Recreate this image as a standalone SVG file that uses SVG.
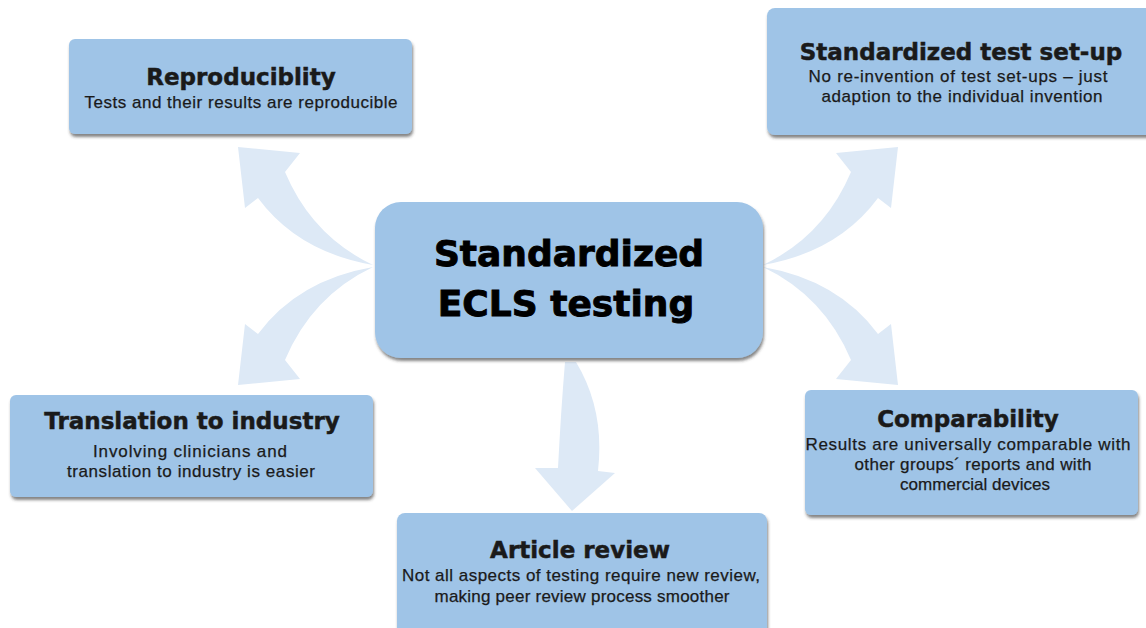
<svg xmlns="http://www.w3.org/2000/svg" xmlns:xlink="http://www.w3.org/1999/xlink" width="1146" height="628" viewBox="0 0 1146 628">
  <style>
    .box { fill: #9fc4e7; filter: url(#shadow); }
    .title { font-family: "DejaVu Sans", "Liberation Sans", sans-serif; font-weight: bold; font-size: 23px; fill: #1a1a1a; stroke: #1a1a1a; stroke-width: 0.5px; text-anchor: middle; }
    .sub { font-family: "Liberation Sans", Arial, sans-serif; font-size: 17px; fill: #1a1a1a; stroke: #1a1a1a; stroke-width: 0.25px; text-anchor: middle; }
    .main { font-family: "DejaVu Sans", "Liberation Sans", sans-serif; font-weight: bold; font-size: 36px; fill: #000; stroke: #000; stroke-width: 0.9px; text-anchor: middle; }
    .flow { fill: #dde9f6; }
  </style>
  <defs>
    <filter id="shadow" x="-5%" y="-10%" width="110%" height="130%">
      <feDropShadow dx="1" dy="3" stdDeviation="1.5" flood-color="#333" flood-opacity="0.6"/>
    </filter>
    <!-- curved block arrow leaving the hub towards the upper left; mirrored for the other corners -->
    <path id="curl" d="M373,265 Q312,236 285,172 L300,153 L238,147 L245,208 L258,198 Q298,252 373,265 Z"/>
  </defs>

  <rect width="1146" height="628" fill="#ffffff"/>

  <g id="connectors" class="flow">
    <use xlink:href="#curl"/>
    <use xlink:href="#curl" transform="translate(1136,0) scale(-1,1)"/>
    <use xlink:href="#curl" transform="translate(0,532) scale(1,-1)"/>
    <use xlink:href="#curl" transform="translate(1136,532) scale(-1,-1)"/>
    <path d="M565,362 L576,362 Q605,410 598,471 L615,473 L572,511 L535,468 L558,468 Q561,410 565,362 Z"/>
  </g>

  <g id="hub">
    <rect class="box" x="375" y="202" width="388" height="156" rx="26"/>
    <text class="main" x="569" y="266">Standardized</text>
    <text class="main" x="566" y="316">ECLS testing</text>
  </g>

  <g id="reproducibility">
    <rect class="box" x="69" y="39" width="343" height="95" rx="6"/>
    <text class="title" x="241" y="85">Reproduciblity</text>
    <text class="sub" x="241" y="108" textLength="313" lengthAdjust="spacing">Tests and their results are reproducible</text>
  </g>

  <g id="test-setup">
    <rect class="box" x="767" y="8" width="400" height="127" rx="8"/>
    <text class="title" x="961" y="60">Standardized test set-up</text>
    <text class="sub" x="958" y="82" textLength="299" lengthAdjust="spacing">No re-invention of test set-ups – just</text>
    <text class="sub" x="962" y="102" textLength="281" lengthAdjust="spacing">adaption to the individual invention</text>
  </g>

  <g id="translation">
    <rect class="box" x="10" y="395" width="363" height="102" rx="6"/>
    <text class="title" x="192" y="429">Translation to industry</text>
    <text class="sub" x="190" y="457" textLength="194" lengthAdjust="spacing">Involving clinicians and</text>
    <text class="sub" x="191" y="477" textLength="248" lengthAdjust="spacing">translation to industry is easier</text>
  </g>

  <g id="comparability">
    <rect class="box" x="805" y="390" width="333" height="125" rx="6"/>
    <text class="title" x="968" y="427">Comparability</text>
    <text class="sub" x="968" y="450" textLength="325" lengthAdjust="spacing">Results are universally comparable with</text>
    <text class="sub" x="973" y="470" textLength="237" lengthAdjust="spacing">other groups´ reports and with</text>
    <text class="sub" x="975" y="490" textLength="150" lengthAdjust="spacing">commercial devices</text>
  </g>

  <g id="article-review">
    <rect class="box" x="397" y="513" width="370" height="130" rx="8"/>
    <text class="title" x="580" y="558">Article review</text>
    <text class="sub" x="581" y="581" textLength="358" lengthAdjust="spacing">Not all aspects of testing require new review,</text>
    <text class="sub" x="582" y="602" textLength="295" lengthAdjust="spacing">making peer review process smoother</text>
  </g>
</svg>
